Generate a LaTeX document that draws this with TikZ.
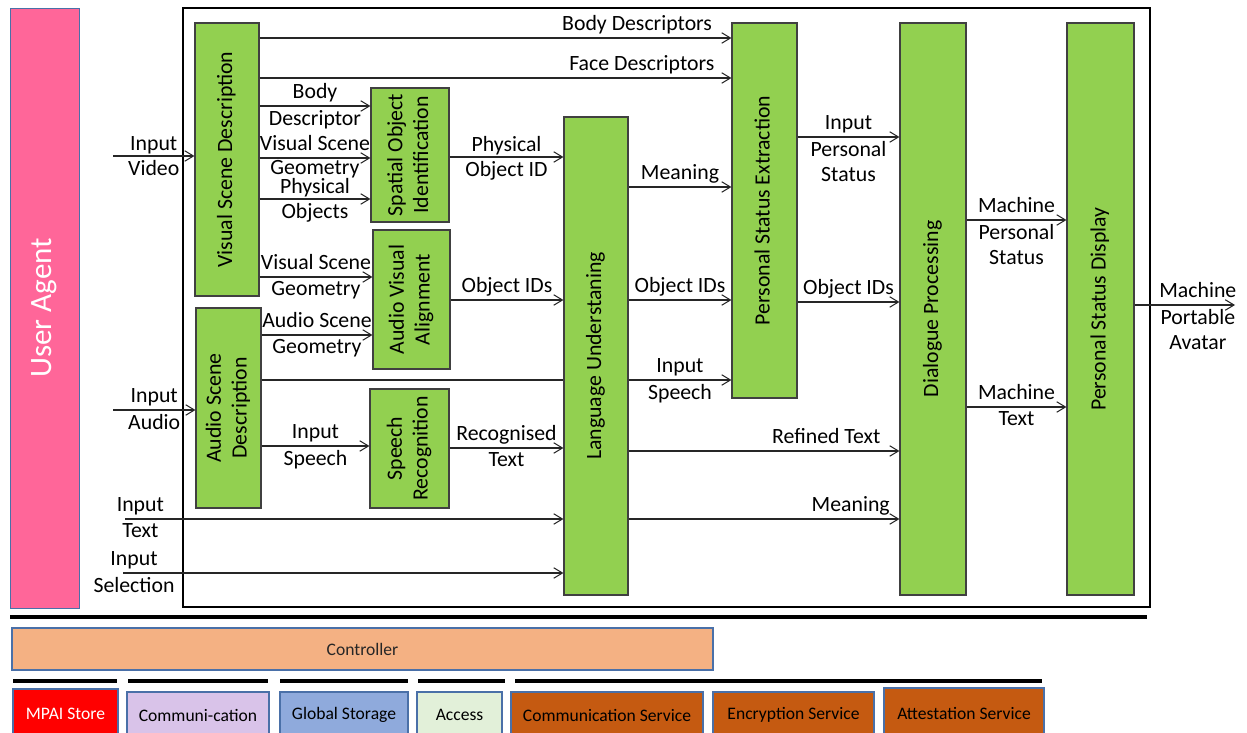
\documentclass[tikz,border=0pt]{standalone}
\usepackage{fontspec}
\setmainfont{Carlito}
\usepackage{tikz}
\usetikzlibrary{arrows.meta, positioning}

\definecolor{boxgreen}{HTML}{92D050}
\definecolor{agentpink}{HTML}{FF6699}
\definecolor{ctrlorange}{HTML}{F4B183}
\definecolor{svcbrown}{HTML}{C55A11}
\definecolor{storered}{HTML}{FF0000}
\definecolor{commlilac}{HTML}{D9C3E9}
\definecolor{storeblue}{HTML}{8FAADC}
\definecolor{accessgreen}{HTML}{E2F0D9}
\definecolor{edgeblue}{HTML}{4A70A8}

\newcommand{\vtext}[1]{\rotatebox{90}{\begin{tabular}{@{}c@{}}#1\end{tabular}}}

\begin{document}
\begin{tikzpicture}[x=0.02cm, y=-0.02cm, >={Straight Barb[length=5pt,width=6pt]},
  font=\fontsize{12.4}{14.7}\selectfont,
  sz/.style 2 args={minimum width=#1*0.02cm, minimum height=#2*0.02cm},
  block/.style={draw=black!75, fill=boxgreen, inner sep=0pt, line width=0.6pt},
  flow/.style={->, line width=0.6pt, color=black!85},
  up/.style={above, inner sep=1.5pt, text depth=2.7pt, text=black},
  dn/.style={below, inner sep=2pt, align=center, text=black},
  tile/.style={draw=edgeblue, inner sep=0pt, line width=0.6pt, font=\fontsize{10}{12}\selectfont},
  bar/.style={line width=2.2pt}]
  \useasboundingbox (0,0) rectangle (1247,733);

  % frame and agent
  \node[draw, line width=0.7pt, inner sep=0pt, sz={967}{599}] (frame) at (666.5,307.5) {};
  \node[fill=agentpink, draw=edgeblue, inner sep=0pt, sz={69}{600}, text=white,
        font=\fontsize{17.7}{20}\selectfont] (agent) at (44.5,308) {\rotatebox{90}{User Agent}};

  % modules
  \node[block, sz={64}{273}] (vsd) at (227,159.5)  {\vtext{Visual Scene Description}};
  \node[block, sz={78}{134}] (soi) at (410,155)    {\vtext{Spatial Object\\Identification}};
  \node[block, sz={77}{139}] (ava) at (411.5,299.5) {\vtext{Audio Visual\\Alignment}};
  \node[block, sz={65}{200}] (asd) at (228.5,408)  {\vtext{Audio Scene\\Description}};
  \node[block, sz={79}{119}] (sr)  at (409.5,448.5) {\vtext{Speech\\Recognition}};
  \node[block, sz={64}{478}] (lu)  at (596,356)    {\vtext{Language Understaning}};
  \node[block, sz={65}{375}] (pse) at (764.5,210.5) {\vtext{Personal Status Extraction}};
  \node[block, sz={66}{572}] (dp)  at (933,309)    {\vtext{Dialogue Processing}};
  \node[block, sz={67}{572}] (psd) at (1100.5,309) {\vtext{Personal Status Display}};

  \coordinate (invid) at (113,156);
  \coordinate (inaud) at (113,410);
  \coordinate (intxt) at (125,519);
  \coordinate (insel) at (123,573);
  \coordinate (avatar) at (1235,305);

  \path[flow]
    (invid)             edge node[up, inner sep=0pt] {Input} node[dn] {Video} (vsd.west |- invid)
    (inaud)             edge node[up] {Input} node[dn] {Audio} (asd.west |- inaud)
    (intxt)             edge node[up, pos=.035] {Input} node[dn, pos=.035] {Text} (lu.west |- intxt)
    (insel)             edge node[up, pos=.025] {Input} node[dn, pos=.025] {Selection} (lu.west |- insel)
    (vsd.east |- 0,38)  edge node[up, pos=.8] {Body Descriptors} (pse.west |- 0,38)
    (vsd.east |- 0,78)  edge node[up, pos=.81] {Face Descriptors} (pse.west |- 0,78)
    (vsd.east |- 0,106) edge node[up] {Body} node[dn] {Descriptor} (soi.west |- 0,106)
    (vsd.east |- 0,158) edge node[up] {Visual Scene} node[dn, inner sep=1pt] {Geometry} (soi.west |- 0,158)
    (vsd.east |- 0,199) edge node[up, inner sep=0pt] {Physical} node[dn] {Objects} (soi.west |- 0,199)
    (vsd.east |- 0,277) edge node[up] {Visual Scene} node[dn] {Geometry} (ava.west |- 0,277)
    (asd.east |- 0,335) edge node[up] {Audio Scene} node[dn] {Geometry} (ava.west |- 0,335)
    (asd.east |- 0,446) edge node[up] {Input} node[dn] {Speech} (sr.west |- 0,446)
    (soi.east |- 0,157) edge node[up, inner sep=0pt] {Physical} node[dn] {Object ID} (lu.west |- 0,157)
    (ava.east |- 0,300) edge node[up] {Object IDs} (lu.west |- 0,300)
    (sr.east |- 0,448)  edge node[up] {Recognised} node[dn] {Text} (lu.west |- 0,448)
    (lu.east |- 0,187)  edge node[up] {Meaning} (pse.west |- 0,187)
    (lu.east |- 0,300)  edge node[up] {Object IDs} (pse.west |- 0,300)
    (lu.east |- 0,380)  edge node[up] {Input} node[dn] {Speech} (pse.west |- 0,380)
    (lu.east |- 0,451)  edge node[up, pos=.73] {Refined Text} (dp.west |- 0,451)
    (lu.east |- 0,519)  edge node[up, pos=.82] {Meaning} (dp.west |- 0,519)
    (pse.east |- 0,137) edge node[up] {Input} node[dn] {Personal\\Status} (dp.west |- 0,137)
    (pse.east |- 0,302) edge node[up] {Object IDs} (dp.west |- 0,302)
    (dp.east |- 0,220)  edge node[up] {Machine} node[dn] {Personal\\Status} (psd.west |- 0,220)
    (dp.east |- 0,407)  edge node[up] {Machine} node[dn] {Text} (psd.west |- 0,407)
    (psd.east |- avatar) edge node[up, pos=.63] {Machine} node[dn, pos=.63] {Portable\\Avatar} (avatar);
  \draw[line width=0.6pt, black!85] (asd.east |- 0,380) -- (lu.west |- 0,380);

  % controller and services
  \draw[bar] (10,617) -- (1147,617);
  \node[tile, fill=ctrlorange, sz={701}{42}, text=black!85] (ctrl) at (362.5,649) {Controller};
  \foreach \xa/\xb in {13/117, 128/268, 280/408, 418/505, 515/1042}
    \draw[bar, line width=2pt] (\xa,681) -- (\xb,681);
  \node[tile, fill=storered, sz={105}{49}, text=white] (store) at (65.5,713.5) {MPAI Store};
  \node[tile, fill=commlilac, sz={142}{46}] (comm) at (198,715) {Communi-cation};
  \node[tile, fill=storeblue, sz={128}{46}] (gstore) at (344,715) {Global Storage};
  \node[tile, fill=accessgreen, sz={85}{46}] (access) at (459.5,715) {Access};
  \node[tile, fill=svcbrown, sz={192}{46}] (commsvc) at (607,715) {Communication Service};
  \node[tile, fill=svcbrown, sz={161}{46}] (encsvc) at (793.5,715) {Encryption Service};
  \node[tile, fill=svcbrown, sz={160}{50}] (attsvc) at (964,713) {Attestation Service};
\end{tikzpicture}
\end{document}
